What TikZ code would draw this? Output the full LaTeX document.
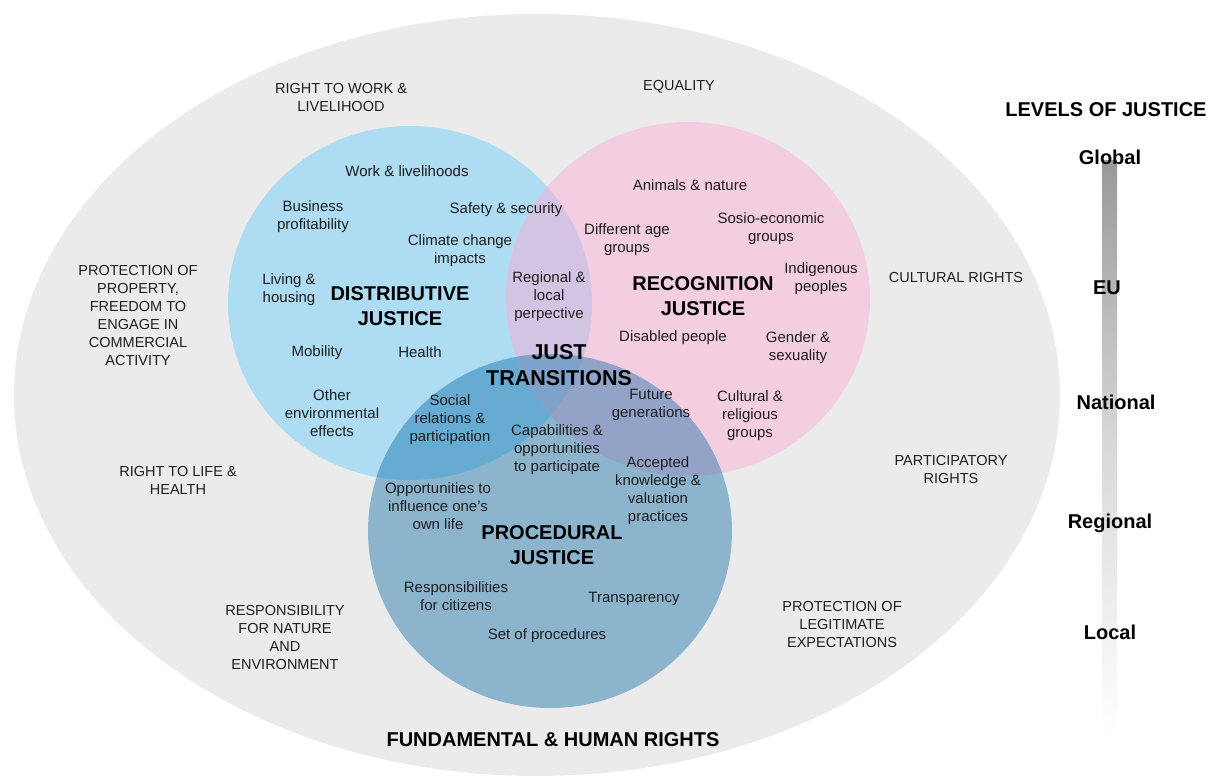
\documentclass[tikz,border=0pt]{standalone}
\usepackage{fontspec}
\setmainfont{Liberation Sans}
\definecolor{outerc}{HTML}{EBEBEB}
\definecolor{bluec}{HTML}{ADDCF3}
\definecolor{pinkc}{HTML}{F3CDE0}
\definecolor{procc}{HTML}{8CB4CD}
\definecolor{bpc}{HTML}{D4C4E4}
\definecolor{bcc}{HTML}{66ACD2}
\definecolor{pcc}{HTML}{93A3C7}
\definecolor{allc}{HTML}{7FA2CB}
\definecolor{txt}{HTML}{1E1E1E}
\tikzset{
  item/.style={align=center, font=\fontsize{15}{18}\selectfont, text=txt, inner sep=0pt},
  outer/.style={align=center, font=\fontsize{14.5}{18}\selectfont, text=txt, inner sep=0pt},
  title/.style={align=center, font=\bfseries\fontsize{20}{25}\selectfont, text=black, inner sep=0pt},
  bigtitle/.style={align=center, font=\bfseries\fontsize{21.5}{26}\selectfont, text=black, inner sep=0pt},
  level/.style={font=\bfseries\fontsize{20}{24}\selectfont, text=black, inner sep=0pt},
}
\def\blueE{(410,303) ellipse [x radius=182pt, y radius=177pt]}
\def\pinkE{(688,299) ellipse [x radius=182pt, y radius=177pt]}
\def\procE{(550,531) ellipse [x radius=182pt, y radius=177pt]}
\begin{document}
\begin{tikzpicture}[x=1pt,y=-1pt]
\useasboundingbox (0,0) rectangle (1216,776);
% outer ellipse
\fill[outerc] (537,395) ellipse [x radius=523pt, y radius=381pt];
% circles
\fill[bluec] \blueE;
\fill[pinkc] \pinkE;
\fill[procc] \procE;
\begin{scope}
  \clip \blueE;
  \fill[bpc] \pinkE;
\end{scope}
\begin{scope}
  \clip \blueE;
  \fill[bcc] \procE;
\end{scope}
\begin{scope}
  \clip \pinkE;
  \fill[pcc] \procE;
\end{scope}
\begin{scope}
  \clip \blueE;
  \clip \pinkE;
  \fill[allc] \procE;
\end{scope}
% levels bar
\shade[top color=black!40, bottom color=white, middle color=black!15] (1102,160) rectangle (1117,735);
\node[level] (lvltitle) at (1106,110) {LEVELS OF JUSTICE};
\node[level] (global) at (1110,157) {Global};
\node[level] (eu) at (1107,288) {EU};
\node[level] (national) at (1116,402) {National};
\node[level] (regional) at (1110,523) {Regional};
\node[level] (local) at (1110,632) {Local};
% outer rights
\node[outer] (work) at (341,98) {RIGHT TO WORK \&\\LIVELIHOOD};
\node[outer] (equality) at (679,87) {EQUALITY};
\node[outer] (property) at (138,316) {PROTECTION OF\\PROPERTY,\\FREEDOM TO\\ENGAGE IN\\COMMERCIAL\\ACTIVITY};
\node[outer] (cultural) at (956,278) {CULTURAL RIGHTS};
\node[outer] (life) at (178,480) {RIGHT TO LIFE \&\\HEALTH};
\node[outer] (particip) at (951,470) {PARTICIPATORY\\RIGHTS};
\node[outer] (nature) at (285,638) {RESPONSIBILITY\\FOR NATURE\\AND\\ENVIRONMENT};
\node[outer] (legit) at (842,625) {PROTECTION OF\\LEGITIMATE\\EXPECTATIONS};
\node[title] (fund) at (553,740) {FUNDAMENTAL \& HUMAN RIGHTS};
% distributive
\node[item] (d1) at (407,171) {Work \& livelihoods};
\node[item] (d2) at (313,217) {Business\\profitability};
\node[item] (d3) at (506,210) {Safety \& security};
\node[item] (d4) at (460,251) {Climate change\\impacts};
\node[item] (d5) at (289,290) {Living \&\\housing};
\node[title] (dist) at (400,306) {DISTRIBUTIVE\\JUSTICE};
\node[item] (d6) at (549,297) {Regional \&\\local\\perpective};
\node[item] (d7) at (317,353) {Mobility};
\node[item] (d8) at (420,352) {Health};
\node[item] (d9) at (332,413) {Other\\environmental\\effects};
\node[item] (d10) at (450,420) {Social\\relations \&\\participation};
\node[bigtitle] (just) at (559,365) {JUST\\TRANSITIONS};
% recognition
\node[item] (r1) at (690,185) {Animals \& nature};
\node[item] (r2) at (627,240) {Different age\\groups};
\node[item] (r3) at (771,229) {Sosio-economic\\groups};
\node[title] (recog) at (703,296) {RECOGNITION\\JUSTICE};
\node[item] (r4) at (821,279) {Indigenous\\peoples};
\node[item] (r5) at (673,338) {Disabled people};
\node[item] (r6) at (798,348) {Gender \&\\sexuality};
\node[item] (r7) at (651,405) {Future\\generations};
\node[item] (r8) at (750,416) {Cultural \&\\religious\\groups};
% procedural
\node[item] (p1) at (557,450) {Capabilities \&\\opportunities\\to participate};
\node[item] (p2) at (658,491) {Accepted\\knowledge \&\\valuation\\practices};
\node[item] (p3) at (438,506) {Opportunities to\\influence one's\\own life};
\node[title] (proc) at (552,545) {PROCEDURAL\\JUSTICE};
\node[item] (p4) at (456,596) {Responsibilities\\for citizens};
\node[item] (p5) at (634,599) {Transparency};
\node[item] (p6) at (547,636) {Set of procedures};
\end{tikzpicture}
\end{document}
